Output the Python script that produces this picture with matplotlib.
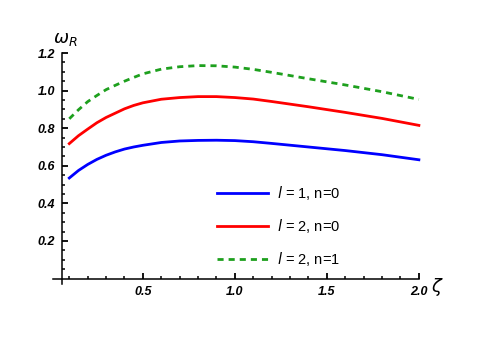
import matplotlib
matplotlib.use("Agg")
import matplotlib.pyplot as plt
from matplotlib.ticker import FixedLocator

zeta = [0.1, 0.15, 0.2, 0.25, 0.3, 0.35, 0.4, 0.45, 0.5, 0.6, 0.7, 0.8, 0.9,
        1.0, 1.1, 1.2, 1.4, 1.6, 1.8, 2.0]
omega_l1_n0 = [0.535, 0.575, 0.607, 0.634, 0.656, 0.674, 0.689, 0.700, 0.709, 0.724,
               0.732, 0.735, 0.736, 0.734, 0.728, 0.719, 0.700, 0.681, 0.659, 0.632]
omega_l2_n0 = [0.718, 0.760, 0.795, 0.829, 0.857, 0.880, 0.903, 0.921, 0.935, 0.954,
               0.963, 0.968, 0.968, 0.963, 0.955, 0.942, 0.914, 0.884, 0.852, 0.815]
omega_l2_n1 = [0.850, 0.898, 0.941, 0.974, 1.005, 1.028, 1.050, 1.070, 1.089, 1.114,
               1.127, 1.133, 1.132, 1.125, 1.113, 1.097, 1.063, 1.030, 0.994, 0.953]

xticks = [0.5, 1.0, 1.5, 2.0]
xminor = [0.1, 0.2, 0.3, 0.4, 0.6, 0.7, 0.8, 0.9, 1.1, 1.2, 1.3, 1.4, 1.6, 1.7, 1.8, 1.9]
yticks = [0.2, 0.4, 0.6, 0.8, 1.0, 1.2]
yminor = [0.05, 0.1, 0.15, 0.25, 0.3, 0.35, 0.45, 0.5, 0.55, 0.65, 0.7, 0.75,
          0.85, 0.9, 0.95, 1.05, 1.1, 1.15]

plt.rcParams["font.family"] = ["Liberation Sans", "DejaVu Sans"]

fig = plt.figure(figsize=(4.8, 3.38), dpi=100)
ax = fig.add_axes([0.106, 0.148, 0.805, 0.723])

ax.plot(zeta, omega_l1_n0, color="#0000ff", lw=2.0, label=r"$\mathit{l}$ = 1, n=0")
ax.plot(zeta, omega_l2_n0, color="#ff0000", lw=2.0, label=r"$\mathit{l}$ = 2, n=0")
ax.plot(zeta, omega_l2_n1, color="#1ea01e", lw=2.0, ls=(0, (2.2, 1.8)),
        label=r"$\mathit{l}$ = 2, n=1")

ax.set_xlim(0.0, 2.1)
ax.set_ylim(-0.05, 1.25)

for s in ("top", "right"):
    ax.spines[s].set_visible(False)
ax.spines["left"].set_position(("data", 0.06))
ax.spines["bottom"].set_position(("data", 0.0))
ax.spines["left"].set_bounds(-0.03, 1.2)
ax.spines["bottom"].set_bounds(0.01, 2.0)
for s in ("left", "bottom"):
    ax.spines[s].set_linewidth(1.1)

ax.xaxis.set_major_locator(FixedLocator(xticks))
ax.xaxis.set_minor_locator(FixedLocator(xminor))
ax.yaxis.set_major_locator(FixedLocator(yticks))
ax.yaxis.set_minor_locator(FixedLocator(yminor))
ax.tick_params(which="major", direction="in", length=4, width=1.3, labelsize=9, pad=5)
ax.tick_params(which="minor", direction="in", length=2.5, width=1.1)
for lab in ax.get_xticklabels() + ax.get_yticklabels():
    lab.set_fontweight("bold")
    lab.set_fontstyle("italic")

ax.text(0.08, 1.27, r"$\omega_R$", fontsize=13, ha="center", va="center", clip_on=False)
ax.text(2.1, -0.045, r"$\zeta$", fontsize=13, ha="center", va="center", clip_on=False)

ax.legend(loc="upper left", bbox_to_anchor=(0.425, 0.495), bbox_transform=fig.transFigure,
          frameon=False, fontsize=10.5, handlelength=3.5, labelspacing=1.05, handletextpad=0.6)

fig.savefig("out.png", dpi=100)
